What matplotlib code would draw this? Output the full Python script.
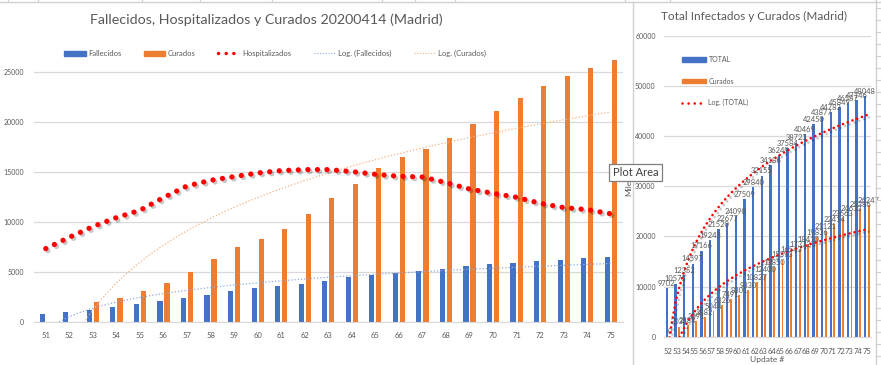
import numpy as np
import matplotlib.pyplot as plt
import matplotlib.patheffects as pe
from matplotlib.lines import Line2D
from matplotlib.patches import Patch

plt.rcParams['font.family'] = ['Lato', 'DejaVu Sans']

# left chart: days 51..75
dias = list(range(51, 76))
fallecidos = [830, 1030, 1263, 1530, 1830, 2160, 2430, 2730, 3130, 3430, 3630, 3830, 4130,
              4570, 4730, 4970, 5170, 5370, 5630, 5830, 5970, 6170, 6230, 6470, 6570]
curados = [0, 0, 2031, 2383, 3091, 3882, 5044, 6326, 7491, 8301, 9330, 10827, 12400,
           13850, 15393, 16543, 17372, 18410, 19836, 21121, 22414, 23663, 24633, 25386, 26247]
hospitalizados = [7370, 8500, 9570, 10470, 11200, 12470, 13630, 14200, 14570, 14930, 15170, 15270, 15270,
                  15070, 14800, 14600, 14530, 13970, 13330, 12900, 12500, 11900, 11470, 11270, 10850]

# right chart: updates 52..75
updates = list(range(52, 76))
total = [9702, 10575, 12352, 14597, 17166, 19243, 21520, 22677, 24090, 27509, 29840, 32155,
         34188, 36249, 37584, 38723, 40469, 42450, 43877, 44783, 45849, 46587, 47146, 48048]
curados_upd = curados[1:]

BLUE = '#4472C4'
ORANGE = '#ED7D31'
RED = '#FF0000'
GRAY = '#595959'
GRID = '#D9D9D9'


def log_trend(x0, y):
    # excel style logarithmic trendline, x = 1..n
    x = np.arange(1, len(y) + 1)
    a, b = np.polyfit(np.log(x), y, 1)
    xs = np.linspace(1, len(y), 300)
    return x0 - 1 + xs, a * np.log(xs) + b


shadow = [pe.SimpleLineShadow(offset=(1.5, -1.5), shadow_color='k', alpha=0.22), pe.Normal()]

fig = plt.figure(figsize=(8.81, 3.65), dpi=100)
W, H = 881, 365


def box(x0, y0, x1, y1):
    return [x0 / W, 1 - y1 / H, (x1 - x0) / W, (y1 - y0) / H]


# ---- left chart ----
ax = fig.add_axes(box(34, 57.3, 622.5, 322.3))
x = np.array(dias)
ax.bar(x - 0.15, fallecidos, width=0.22, color=BLUE, zorder=2)
ax.bar(x + 0.15, curados, width=0.22, color=ORANGE, zorder=2)
ax.plot(dias, hospitalizados, color=RED, lw=3.8, linestyle=(0, (0.01, 1.8)),
        dash_capstyle='round', zorder=4, path_effects=shadow)
tx, ty = log_trend(dias[0], fallecidos)
ax.plot(tx, ty, color='#8FAADC', lw=0.9, linestyle=(0, (1, 1.6)), zorder=3)
tx, ty = log_trend(dias[0], curados)
ax.plot(tx, ty, color='#F4B183', lw=0.9, linestyle=(0, (1, 1.6)), zorder=3)

ax.set_xlim(50.5, 75.5)
ax.set_ylim(0, 26500)
ax.set_xticks(dias)
ax.set_yticks(range(0, 25001, 5000))
ax.set_yticklabels(['0', '5000', '10000', '15000', '20000', '25000'])
ax.grid(axis='y', color=GRID, lw=0.9, zorder=0)
ax.tick_params(length=0, labelsize=5.5, colors=GRAY, pad=7)
ax.tick_params(axis='y', labelsize=5, pad=7)
for s in ['top', 'right', 'left']:
    ax.spines[s].set_visible(False)
ax.spines['bottom'].set_color(GRID)

fig.text(266 / W, 1 - 20 / H, 'Fallecidos, Hospitalizados y Curados 20200414 (Madrid)',
         ha='center', va='center', fontsize=10.3, color=GRAY)

handles = [Patch(color=BLUE), Patch(color=ORANGE),
           Line2D([], [], color=RED, lw=2.5, linestyle=(0, (0.01, 2.2)), dash_capstyle='round'),
           Line2D([], [], color='#8FAADC', lw=0.8, linestyle=(0, (1, 1.5))),
           Line2D([], [], color='#F4B183', lw=0.8, linestyle=(0, (1, 1.5)))]
labels = ['Fallecidos', 'Curados', 'Hospitalizados', 'Log. (Fallecidos)', 'Log. (Curados)']
fig.legend(handles, labels, loc='center', bbox_to_anchor=(275 / W, 1 - 53.5 / H), ncol=5,
           frameon=False, fontsize=5.5, handlelength=2.8, handleheight=0.6, handletextpad=0.3,
           columnspacing=3.0, labelcolor=GRAY)

# ---- right chart ----
ax2 = fig.add_axes(box(664, 36, 871, 336.7))
u = np.array(updates)
ax2.bar(u - 0.17, total, width=0.27, color=BLUE, zorder=2)
ax2.bar(u + 0.24, curados_upd, width=0.22, color=ORANGE, zorder=2)
tx, ty = log_trend(updates[0], total)
ax2.plot(tx, ty, color=RED, lw=1.9, linestyle=(0, (0.01, 1.9)), dash_capstyle='round',
         zorder=4, path_effects=shadow)
tx, ty = log_trend(updates[0], curados_upd)
ax2.plot(tx, ty, color=RED, lw=1.9, linestyle=(0, (0.01, 1.9)), dash_capstyle='round',
         zorder=4, path_effects=shadow)
for xi, v in zip(updates, total):
    ax2.text(xi - 0.17, v + 250, str(v), ha='center', va='bottom', fontsize=5.4, color=GRAY, zorder=5)
for xi, v in zip(updates, curados_upd):
    ax2.text(xi + 0.24, v + 250, str(v), ha='center', va='bottom', fontsize=5.4, color=GRAY, zorder=5)

ax2.set_xlim(51.5, 75.5)
ax2.set_ylim(0, 60000)
ax2.set_xticks(updates)
ax2.set_yticks(range(0, 60001, 10000))
ax2.set_yticklabels(['0', '10000', '20000', '30000', '40000', '50000', '60000'])
ax2.grid(axis='y', color=GRID, lw=0.9, zorder=0)
ax2.tick_params(length=0, labelsize=5.5, colors=GRAY, pad=5)
ax2.tick_params(axis='y', labelsize=5, pad=6)
ax2.tick_params(axis='x', pad=8)
for s in ['top', 'right', 'left']:
    ax2.spines[s].set_visible(False)
ax2.spines['bottom'].set_color(GRID)
ax2.set_xlabel('Update #', fontsize=6, color=GRAY, labelpad=1)
ax2.set_ylabel('Miles', fontsize=6, color=GRAY, labelpad=2)

fig.text(754 / W, 1 - 16 / H, 'Total Infectados y Curados (Madrid)',
         ha='center', va='center', fontsize=8.5, color=GRAY)

h2 = [Patch(color=BLUE), Patch(color=ORANGE),
      Line2D([], [], color=RED, lw=1.9, linestyle=(0, (0.01, 2.3)), dash_capstyle='round')]
ax2.legend(h2, ['TOTAL', 'Curados', 'Log. (TOTAL)'], loc='upper left',
           bbox_to_anchor=(682 / W, 1 - 56 / H), bbox_transform=fig.transFigure,
           frameon=False, fontsize=5, handlelength=3.5, handleheight=0.55, handletextpad=0.3,
           labelspacing=2.1, borderpad=0, borderaxespad=0, labelcolor=GRAY)

# sheet gridlines around the charts
fig.add_artist(Line2D([0, 1], [1 - 2 / H] * 2, color='#D0D0D0', lw=1))
for xc in [8, 38, 142, 200, 272, 382, 415, 455, 625, 670]:
    fig.add_artist(Line2D([xc / W] * 2, [1 - 2 / H, 1], color='#D0D0D0', lw=0.8))
fig.add_artist(Line2D([633 / W] * 2, [0, 1 - 2 / H], color='#D0D0D0', lw=1))
fig.add_artist(Line2D([876 / W] * 2, [0, 1], color='#D0D0D0', lw=1))
for yr in range(8, 365, 12):
    fig.add_artist(Line2D([876 / W, 1], [1 - yr / H] * 2, color='#D0D0D0', lw=0.8))

fig.text(635.5 / W, 1 - 172.5 / H, 'Plot Area', ha='center', va='center', fontsize=8,
         color='#404040', zorder=10,
         bbox=dict(boxstyle='square,pad=0.3', fc='white', ec='#7F7F7F', lw=0.9))

fig.savefig('out.png', dpi=100)
